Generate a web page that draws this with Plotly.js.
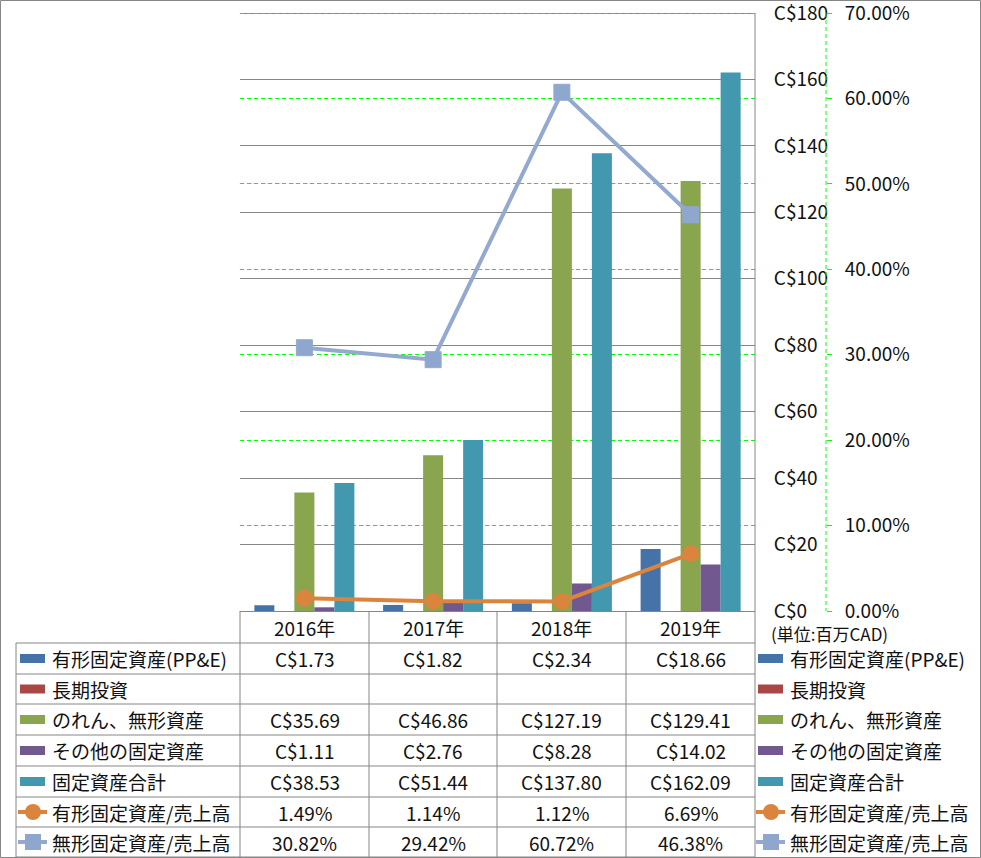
<!DOCTYPE html>
<html>
<head>
<meta charset="utf-8">
<script src="https://cdn.plot.ly/plotly-3.0.1.min.js"></script>
<style>
html,body{margin:0;padding:0;background:#fff;}
#chart{width:981px;height:858px;}
</style>
</head>
<body>
<div id="chart"></div>
<script>
// ---- data ----
const years = ['2016年', '2017年', '2018年', '2019年'];
const ppe = [1.73, 1.82, 2.34, 18.66];
const ltInvest = [null, null, null, null];
const goodwill = [35.69, 46.86, 127.19, 129.41];
const otherFixed = [1.11, 2.76, 8.28, 14.02];
const totalFixed = [38.53, 51.44, 137.80, 162.09];
const ppeRatio = [1.49, 1.14, 1.12, 6.69];
const intangRatio = [30.82, 29.42, 60.72, 46.38];
const cadTicks = [0, 20, 40, 60, 80, 100, 120, 140, 160, 180];
const pctTicks = [0, 10, 20, 30, 40, 50, 60, 70];
const seriesNames = ['有形固定資産(PP&E)', '長期投資', 'のれん、無形資産', 'その他の固定資産', '固定資産合計', '有形固定資産/売上高', '無形固定資産/売上高'];
const unitLabel = '(単位:百万CAD)';

// ---- styles ----
const colors = ['#4572A7', '#AA4643', '#89A54E', '#71588F', '#4198AF', '#DB843D', '#93A9CF'];
const FONT = 'Noto Sans CJK JP, Noto Sans, sans-serif';
const TXT = '#111';
const GRAY = '#868686';
const W = 981, H = 858;
const X = p => p / W;
const Y = p => 1 - p / H;

// plot area: 0 at y=611, top tick at y=13; extend range slightly so edge tick is kept
const PLOT_BOTTOM = 611, PLOT_TOP_TICK = 13, EXTRA = 2;
const cadMax = cadTicks[cadTicks.length - 1];
const pctMax = pctTicks[pctTicks.length - 1];
const pxPerUnit = (PLOT_BOTTOM - PLOT_TOP_TICK) / cadMax;
const cadRangeMax = cadMax + EXTRA / pxPerUnit;
const pctRangeMax = pctMax * cadRangeMax / cadMax;

const barSeries = [ppe, ltInvest, goodwill, otherFixed, totalFixed];
const lineSeries = [ppeRatio, intangRatio];

const traces = [];
barSeries.forEach((vals, i) => {
  traces.push({
    type: 'bar', x: years, y: vals, name: seriesNames[i],
    marker: {color: colors[i]}, hoverinfo: 'skip', showlegend: false
  });
});
lineSeries.forEach((vals, i) => {
  traces.push({
    type: 'scatter', mode: 'lines+markers', x: years, y: vals, yaxis: 'y2',
    name: seriesNames[5 + i], hoverinfo: 'skip', showlegend: false, cliponaxis: false,
    line: {color: colors[5 + i], width: 4},
    marker: i === 0 ? {symbol: 'circle', size: 17, color: colors[5]}
                    : {symbol: 'square', size: 16, color: '#8FA6CF', line: {color: '#93A9CF', width: 1}}
  });
});

const shapes = [];
const annotations = [];
const line = (x0, y0, x1, y1, color, dash, width) => shapes.push({
  type: 'line', xref: 'paper', yref: 'paper', x0: X(x0), y0: Y(y0), x1: X(x1), y1: Y(y1),
  line: {color: color || GRAY, width: width || 1, dash: dash || 'solid'}
});

// outer border
shapes.push({type: 'rect', xref: 'paper', yref: 'paper', x0: X(0.5), y0: Y(857.5), x1: X(980.5), y1: Y(0.5),
  line: {color: GRAY, width: 1}});
// right value-axis line and percent axis dashed line
line(755, PLOT_TOP_TICK, 755, 611);
line(826, PLOT_TOP_TICK, 826, 611, '#00FF00', '4px,3px');

// table grid
const colEdges = [240, 369, 497, 626, 755];
const rowEdges = [643, 674, 704, 735, 766, 797, 827, 857];
rowEdges.forEach(y => line(16, y, 755, y));
colEdges.forEach(x => line(x, 611, x, 857));
line(16, 643, 16, 857);

// header years
years.forEach((yr, i) => {
  annotations.push({xref: 'paper', yref: 'paper', x: X((colEdges[i] + colEdges[i + 1]) / 2), y: Y(627),
    xanchor: 'center', yanchor: 'middle', showarrow: false, text: yr, font: {family: FONT, size: 19, color: TXT}});
});

// unit label
annotations.push({xref: 'paper', yref: 'paper', x: X(769), y: Y(633), xanchor: 'left', yanchor: 'middle',
  showarrow: false, text: unitLabel, font: {family: FONT, size: 17, color: TXT}});

// rows
const allSeries = barSeries.concat(lineSeries);
allSeries.forEach((vals, r) => {
  const cy = (rowEdges[r] + rowEdges[r + 1]) / 2;
  vals.forEach((v, i) => {
    if (v === null) return;
    const txt = r < 5 ? 'C$' + v.toFixed(2) : v.toFixed(2) + '%';
    annotations.push({xref: 'paper', yref: 'paper', x: X((colEdges[i] + colEdges[i + 1]) / 2), y: Y(cy),
      xanchor: 'center', yanchor: 'middle', showarrow: false, text: txt, font: {family: FONT, size: 19, color: TXT}});
  });
  // legends (left and right)
  [[20, 50], [758, 788]].forEach(([sx, tx]) => {
    if (r < 5) {
      shapes.push({type: 'rect', xref: 'paper', yref: 'paper', x0: X(sx), x1: X(sx + 25), y0: Y(cy + 4.5), y1: Y(cy - 4.5),
        fillcolor: colors[r], line: {width: 0}});
    } else {
      line(sx - 2, cy, sx + 27, cy, colors[r], 'solid', 4);
      const c = sx + 13;
      if (r === 5) {
        shapes.push({type: 'circle', xref: 'paper', yref: 'paper', x0: X(c - 8), x1: X(c + 8), y0: Y(cy + 8), y1: Y(cy - 8),
          fillcolor: colors[r], line: {width: 0}});
      } else {
        shapes.push({type: 'rect', xref: 'paper', yref: 'paper', x0: X(c - 8), x1: X(c + 8), y0: Y(cy + 8), y1: Y(cy - 8),
          fillcolor: '#8FA6CF', line: {width: 0}});
      }
    }
    annotations.push({xref: 'paper', yref: 'paper', x: X(tx), y: Y(cy), xanchor: 'left', yanchor: 'middle',
      showarrow: false, text: seriesNames[r], font: {family: FONT, size: 19, color: TXT}});
  });
});

const layout = {
  width: W, height: H,
  margin: {l: 0, r: 0, t: 0, b: 0},
  paper_bgcolor: '#fff', plot_bgcolor: '#fff',
  font: {family: FONT, color: TXT, size: 19},
  barmode: 'group', bargap: 0.223, bargroupgap: 0,
  showlegend: false,
  xaxis: {domain: [X(240), X(755)], type: 'category', showticklabels: false, ticks: '',
    showline: true, linecolor: GRAY, linewidth: 1, showgrid: false, fixedrange: true},
  yaxis: {domain: [Y(PLOT_BOTTOM), Y(PLOT_TOP_TICK - EXTRA)], range: [0, cadRangeMax], tickmode: 'array', tickvals: cadTicks,
    ticktext: cadTicks.map(v => 'C$' + v), side: 'right', ticklabeloverflow: 'allow',
    showline: false, showgrid: true, gridcolor: GRAY, gridwidth: 1,
    zeroline: false, ticks: 'outside', ticklen: 14, tickcolor: 'rgba(0,0,0,0)',
    tickfont: {family: FONT, size: 19, color: TXT}, fixedrange: true},
  yaxis2: {overlaying: 'y', anchor: 'free', position: X(826), side: 'right', range: [0, pctRangeMax],
    tickmode: 'array', tickvals: pctTicks, ticktext: pctTicks.map(v => v.toFixed(2) + '%'), ticklabeloverflow: 'allow',
    showline: false, showgrid: true, gridcolor: '#00FF00',
    griddash: '4px,3px', gridwidth: 1, zeroline: false, ticks: 'outside', ticklen: 5, tickcolor: '#00FF00',
    ticklabelstandoff: 9, tickfont: {family: FONT, size: 19, color: TXT}, fixedrange: true},
  shapes: shapes,
  annotations: annotations
};

Plotly.newPlot('chart', traces, layout, {staticPlot: true, displayModeBar: false});
</script>
</body>
</html>
